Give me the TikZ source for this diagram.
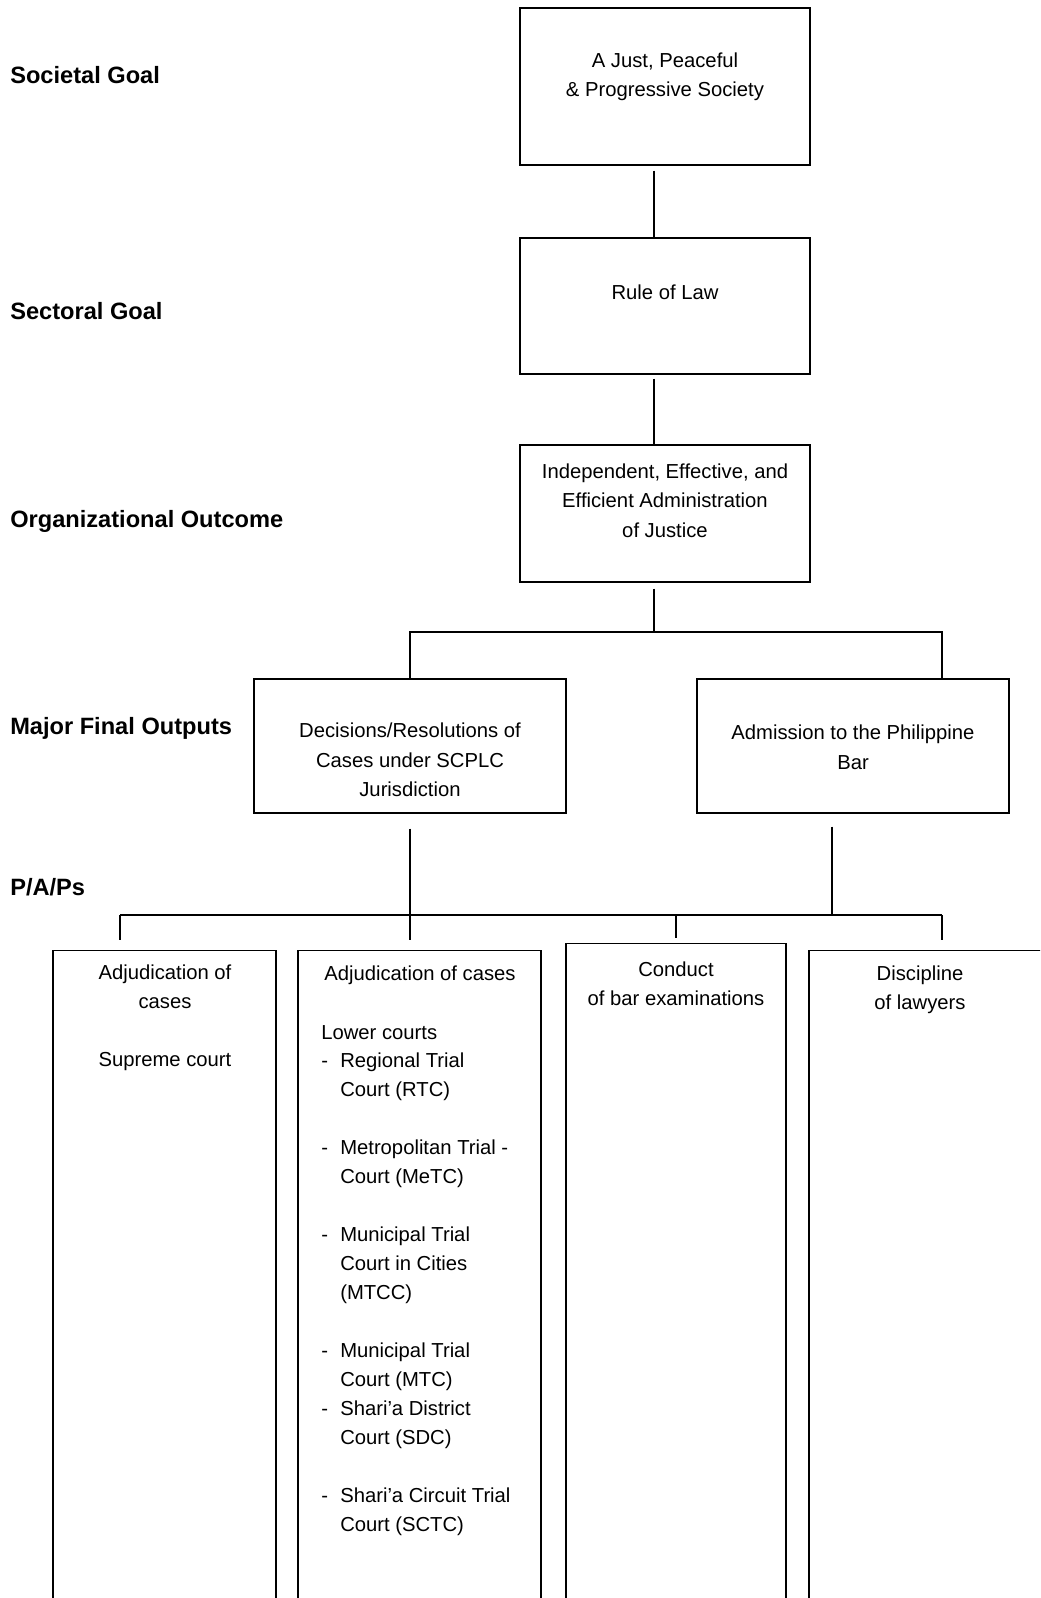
\documentclass[tikz,border=0pt]{standalone}
\usepackage{fontspec}
\setmainfont{Liberation Sans}

\begin{document}
\begin{tikzpicture}[
        box/.style={draw, line width=1pt, inner sep=0pt},
        txt/.style={align=center, inner sep=0pt, font=\fontsize{14.4}{21}\selectfont},
        ptxt/.style={txt, font=\fontsize{14.4}{20.6}\selectfont},
        lvl/.style={anchor=base west, inner sep=0pt, font=\bfseries\fontsize{16.8}{20}\selectfont},
        link/.style={line width=1pt}
    ]
        \useasboundingbox (0,0) rectangle (26,-39.95);
        \clip (0,0) rectangle (26,-39.95);
        % level names on the left
        \node[lvl] (societal) at (0.25,-2.09) {Societal Goal};
        \node[lvl] (sectoral) at (0.25,-7.99) {Sectoral Goal};
        \node[lvl] (outcome) at (0.25,-13.19) {Organizational Outcome};
        \node[lvl] (outputs) at (0.25,-18.37) {Major Final Outputs};
        \node[lvl] (paps) at (0.25,-22.39) {P/A/Ps};
        % goal, sector and outcome boxes
        \node[box, minimum width=7.25cm, minimum height=3.925cm] (goal) at (16.625,-2.1625) {};
        \node[txt] (goal-t) at (16.625,-1.925) {A Just, Peaceful\\ \& Progressive Society};
        \node[box, minimum width=7.25cm, minimum height=3.4cm] (rule) at (16.625,-7.65) {};
        \node[txt] (rule-t) at (16.625,-7.3) {Rule of Law};
        \node[box, minimum width=7.25cm, minimum height=3.425cm] (admin) at (16.625,-12.8375) {};
        \node[txt] (admin-t) at (16.625,-12.5125) {Independent, Effective, and\\ Efficient Administration\\ of Justice};
        % major final outputs
        \node[box, minimum width=7.8cm, minimum height=3.35cm] (decide) at (10.25,-18.65) {};
        \node[txt] (decide-t) at (10.25,-19.0) {Decisions/Resolutions of\\ Cases under SCPLC\\ Jurisdiction};
        \node[box, minimum width=7.8cm, minimum height=3.35cm] (bar) at (21.325,-18.65) {};
        \node[txt] (bar-t) at (21.325,-18.675) {Admission to the Philippine\\ Bar};
        % P/A/P boxes, open at the bottom of the page
        \node[box, anchor=north, minimum width=5.575cm, minimum height=17cm] (adj) at (4.1125,-23.75) {};
        \node[box, anchor=north, minimum width=6.075cm, minimum height=17cm] (low) at (10.4875,-23.75) {};
        \node[box, anchor=north, minimum width=5.5cm, minimum height=17cm] (exam) at (16.9,-23.575) {};
        \node[box, anchor=north, minimum width=6.775cm, minimum height=17cm] (disc) at (23.6125,-23.75) {};
        \node[ptxt] (adj-t) at (4.125,-25.45) {Adjudication of\\ cases\\[20.6pt] Supreme court};
        \node[ptxt] (low-t) at (10.5,-24.375) {Adjudication of cases};
        \node[ptxt, align=left, anchor=north west] (low-list) at (8.025,-25.62) {%
            Lower courts\\
            \makebox[13.5pt][l]{-}Regional Trial\\
            \makebox[13.5pt]{}Court (RTC)\\[20.6pt]
            \makebox[13.5pt][l]{-}Metropolitan Trial -\\
            \makebox[13.5pt]{}Court (MeTC)\\[20.6pt]
            \makebox[13.5pt][l]{-}Municipal Trial\\
            \makebox[13.5pt]{}Court in Cities\\
            \makebox[13.5pt]{}(MTCC)\\[20.6pt]
            \makebox[13.5pt][l]{-}Municipal Trial\\
            \makebox[13.5pt]{}Court (MTC)\\
            \makebox[13.5pt][l]{-}Shari’a District\\
            \makebox[13.5pt]{}Court (SDC)\\[20.6pt]
            \makebox[13.5pt][l]{-}Shari’a Circuit Trial\\
            \makebox[13.5pt]{}Court (SCTC)};
        \node[ptxt] (exam-t) at (16.9,-24.5875) {Conduct\\ of bar examinations};
        \node[ptxt] (disc-t) at (23.0,-24.7375) {Discipline\\ of lawyers};
        % connectors down the spine
        \coordinate (spine) at (16.35,0);
        \coordinate (split) at (16.35,-15.8);
        \coordinate (rdrop) at (23.55,-15.8);
        \draw[link] ([yshift=-0.12cm]goal.south -| spine) -- (rule.north -| spine);
        \draw[link] ([yshift=-0.1cm]rule.south -| spine) -- (admin.north -| spine);
        \draw[link] ([yshift=-0.15cm]admin.south -| spine) -- (split);
        % split to the two outputs
        \draw[link] (decide.north) -- (decide.north |- split) -- (rdrop) -- (rdrop |- bar.north);
        % outputs down to the P/A/P bar
        \coordinate (pleft) at (3,-22.875);
        \coordinate (pright) at (23.55,-22.875);
        \coordinate (bdrop) at (20.8,-22.875);
        \draw[link] ([yshift=-0.37cm]decide.south) -- (decide.south |- pleft);
        \draw[link] (bdrop |- bar.south) ++(0,-0.32) -- (bdrop);
        \draw[link] (pleft) -- (pright);
        % drops to the P/A/P boxes
        \foreach \x/\b in {3/adj,10.25/low,23.55/disc}
            \draw[link] (\x,-22.875) -- (\x,-23.5);
        \draw[link] (exam.north |- pleft) -- (16.9,-23.45);
    \end{tikzpicture}
\end{document}
